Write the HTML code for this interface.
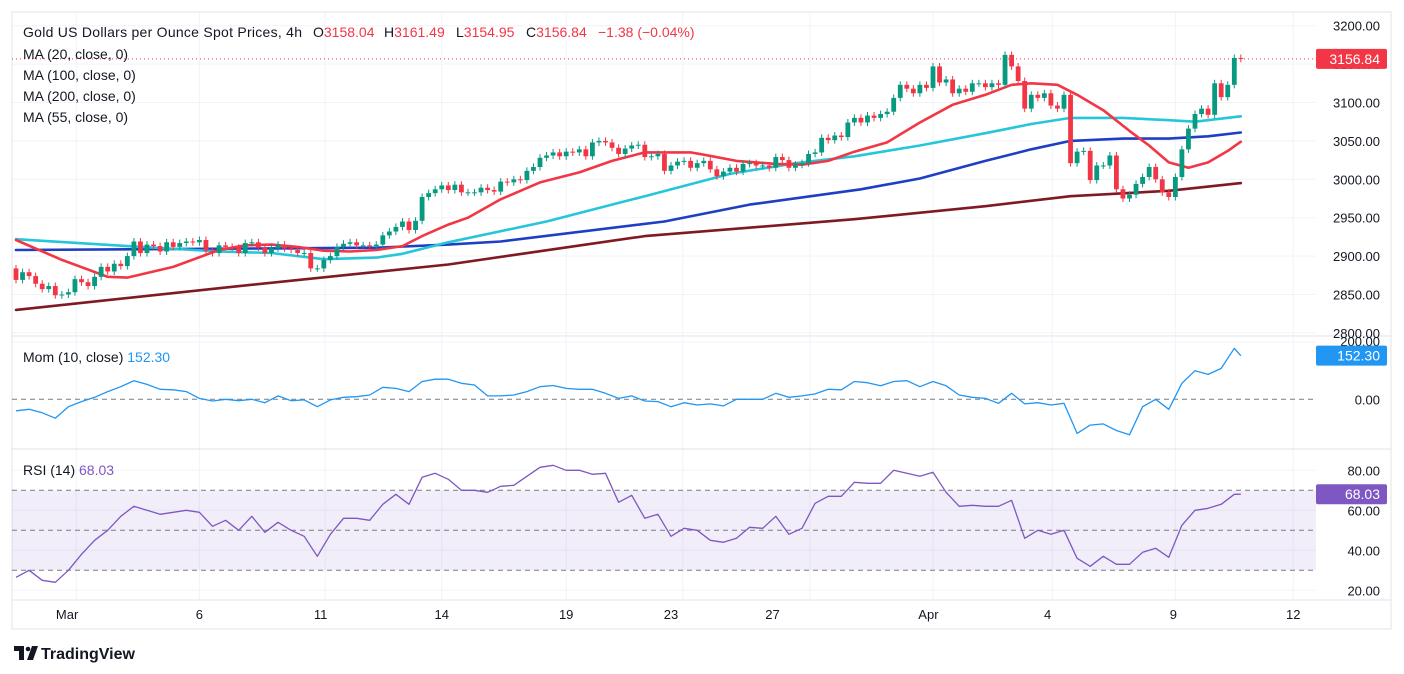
<!DOCTYPE html>
<html><head><meta charset="utf-8"><style>
html,body{margin:0;padding:0;background:#fff;}
svg{display:block;font-family:"Liberation Sans",sans-serif;}
</style></head><body>
<svg id="chart" width="1404" height="674" viewBox="0 0 1404 674" xmlns="http://www.w3.org/2000/svg">
<rect x="0" y="0" width="1404" height="674" fill="#fff"/>
<g id="grid"></g>
<rect x="12" y="12" width="1379" height="617" fill="none" stroke="#e0e3eb" stroke-width="1"/>
<line x1="12" y1="336" x2="1391" y2="336" stroke="#e0e3eb"/>
<line x1="12" y1="449" x2="1391" y2="449" stroke="#e0e3eb"/>
<line x1="12" y1="600" x2="1391" y2="600" stroke="#e0e3eb"/>
<rect x="12" y="490.3" width="1304" height="80" fill="#7e57c2" fill-opacity="0.1"/>
<g id="refs"></g>
<g id="mas"></g>
<g id="candles"></g>
<g id="ind"></g>
<g id="axes" font-size="13" fill="#131722"></g>

<g font-size="14" fill="#131722">
<text x="23" y="37" textLength="279">Gold US Dollars per Ounce Spot Prices, 4h</text>
<text x="313" y="37">O<tspan fill="#f23645">3158.04</tspan></text>
<text x="384" y="37">H<tspan fill="#f23645">3161.49</tspan></text>
<text x="456" y="37">L<tspan fill="#f23645">3154.95</tspan></text>
<text x="526" y="37">C<tspan fill="#f23645">3156.84</tspan></text>
<text x="598" y="37" fill="#f23645">−1.38 (−0.04%)</text>
<text x="23" y="59">MA (20, close, 0)</text>
<text x="23" y="80">MA (100, close, 0)</text>
<text x="23" y="101">MA (200, close, 0)</text>
<text x="23" y="122">MA (55, close, 0)</text>
<text x="23" y="362">Mom (10, close)  <tspan fill="#2196f3">152.30</tspan></text>
<text x="23" y="475">RSI (14)  <tspan fill="#7e57c2">68.03</tspan></text>
</g>

<g>
<path d="M14 646 h10 v14 h-5 v-9 h-5 z M27 660 l5-14 h6 l-5 14 z" fill="#131722"/>
<circle cx="28" cy="649" r="2.3" fill="#131722"/>
<text x="41" y="659" font-size="16" font-weight="bold" fill="#131722">TradingView</text>
</g>
</svg>
<script>
// ---- data ----
const closes = [2869,2879,2874,2864,2857,2861,2849,2850,2853,2870,2866,2861,2873,2886,2880,2890,2887,2900,2919,2904,2915,2913,2906,2918,2912,2917,2919,2918,2921,2907,2904,2914,2912,2911,2904,2917,2918,2911,2904,2910,2915,2910,2908,2904,2904,2884,2884,2895,2900,2912,2916,2918,2914,2914,2913,2915,2927,2932,2938,2945,2934,2946,2977,2982,2987,2992,2986,
2993,2983,2983,2983,2989,2986,2984,2997,2996,3000,2999,3011,3016,3028,3031,3035,3030,3036,3035,3039,3030,3048,3050,3048,3041,3033,3040,3044,3045,3029,3030,3033,3011,3018,3023,3024,3015,3021,3024,3013,3004,3010,3015,3010,3020,3021,3018,3018,3015,3029,3025,3015,3019,3021,3033,3035,3054,3051,3057,3055,3074,3080,
3074,3083,3080,3085,3088,3106,3123,3118,3112,3123,3119,3147,3126,3130,3112,3118,3114,3125,3125,3120,3125,3123,3162,3147,3128,3092,3110,3106,3112,3096,3092,3110,3021,3036,3037,2999,3018,3018,3031,2987,2975,2980,2994,3003,3016,3000,2983,2977,3003,3039,3066,3085,3092,3084,3125,3107,3123,3158,3156.84];
const firstOpen = 2884;
const lastOpen = 3158.04;
const ma20Idx = [1,8,15,18,25,32,36,40,44,48,52,56,60,63,67,70,75,81,87,92,97,104,106,111,117,121,125,129,134,139,144,149,153,156,160,163,167,171,174,177,180,183,186,188];
const ma20Val = [2921,2895,2873,2872,2886,2908,2914,2915,2912,2907,2906,2908,2913,2926,2941,2950,2974,2996,3009,3024,3035,3035,3032,3024,3020,3019,3024,3036,3048,3074,3097,3110,3123,3125,3123,3110,3090,3063,3044,3022,3015,3022,3037,3049];
const ma100Idx = [1,18,32,40,48,56,60,67,82,97,110,120,129,139,149,156,162,170,177,181,188];
const ma100Val = [2922,2913,2906,2904,2896,2898,2903,2918,2945,2978,3007,3021,3030,3044,3060,3072,3080,3080,3077,3075,3082];
const ma200Idx = [1,40,56,67,75,100,113,130,139,149,156,162,170,177,183,188];
const ma200Val = [2908,2910,2911,2915,2919,2945,2967,2987,3001,3024,3039,3050,3053,3053,3056,3061];
const ma55Idx = [1,34,67,97,129,149,162,177,188];
const ma55Val = [2830,2860,2889,2926,2948,2965,2978,2985,2995];
// sampled every 2 candles (0,2,...,186) then last candle 187
const momVals = [-40,-35,-47,-66,-26,-8,7,27,44,65,52,35,33,27,3,-6,0,-5,0,-12,12,-5,-2,-26,-2,7,9,15,42,38,27,62,70,70,56,50,12,12,15,27,44,48,38,35,35,21,3,
12,-6,-8,-26,-12,-20,-16,-23,0,0,0,21,7,12,19,35,33,62,58,47,62,65,44,62,47,15,7,3,-14,21,-16,-12,-20,-14,-119,-90,-86,-109,-124,-26,0,-35,56,100,87,108,178,152.3];
const rsiVals = [26.5,30,25,24,30,38,45,50,57,62,60,58,59,60,59,52,55,50,57,49,54,50,47,37,48,56,56,55,63,68,63,76.5,78.5,75.5,70,70,69,72,72.5,77,81.5,82.5,80,80,78,78.5,64,
67.5,56,58,47,51,50,45,44,46,51.5,51,57,48,51,63.5,67,67,74,73.5,73.5,80,78.5,77,79,69,62,62.5,62,62,65,46,50,48,50,36,32,37,33,33,39,41,36.5,52.5,60,61,63,68,68.03];
const priceTicks = ["3200.00","3150.00","3100.00","3050.00","3000.00","2950.00","2900.00","2850.00","2800.00"];
const priceTickVals = [3200,3150,3100,3050,3000,2950,2900,2850,2800];
const rsiTicks = [80,60,40,20];
const timeLabels = ["Mar","6","11","14","19","23","27","Apr","4","9","12"];
const timeLabelIdx = [7.8,28,46.5,65,84,100,115.5,139.3,157.5,176.7,195];
const gridIdx = [9.2,28,47.2,65,84,101.8,121.2,140,158.2,177,195];

// ---- scales ----
const X = i => 16 + 6.55 * i;
const PY = p => 25.7 + (3200 - p) * 0.768;
const MY = v => 399.3 - v * 0.2865;
const RY = v => 490.3 + (70 - v) * 2;
const NS = "http://www.w3.org/2000/svg";
function mk(tag, attrs, parent) {
  const e = document.createElementNS(NS, tag);
  for (const k in attrs) e.setAttribute(k, attrs[k]);
  parent.appendChild(e);
  return e;
}
const gGrid = document.getElementById('grid');
const gRefs = document.getElementById('refs');
const gMas = document.getElementById('mas');
const gC = document.getElementById('candles');
const gInd = document.getElementById('ind');
const gAx = document.getElementById('axes');

// grid
priceTickVals.forEach(v => {
  const l = mk('line', {x1: 12, x2: 1316, y1: PY(v), y2: PY(v), stroke: '#f0f3fa'}, gGrid);
  
  
});
rsiTicks.forEach(v => {
  const l = mk('line', {x1: 12, x2: 1316, y1: RY(v), y2: RY(v), stroke: '#f0f3fa'}, gGrid);
  
  
});
{
  const l = mk('line', {x1: 12, x2: 1316, y1: MY(200), y2: MY(200), stroke: '#f0f3fa'}, gGrid);
  
  
}
gridIdx.forEach(i => {
  const l = mk('line', {x1: X(i), x2: X(i), y1: 12, y2: 600, stroke: '#f0f3fa'}, gGrid);
  
  
});

// reference lines
[[MY(0), 'mom-zero-line'], [RY(70), 'rsi-70-line'], [RY(50), 'rsi-50-line'], [RY(30), 'rsi-30-line']].forEach(([y, n]) => {
  const l = mk('line', {x1: 12, x2: 1316, y1: y, y2: y, stroke: '#787b86', 'stroke-dasharray': '5,4', 'stroke-width': 1}, gRefs);
  
  
});
{
  const l = mk('line', {x1: 12, x2: 1316, y1: PY(closes[closes.length - 1]), y2: PY(closes[closes.length - 1]), stroke: '#f23645', 'stroke-dasharray': '1,3', 'stroke-width': 1}, gRefs);
  
  
}

// moving averages
function maLine(idx, vals, color, name) {
  const pts = idx.map((i, k) => X(i - 1).toFixed(1) + ',' + PY(vals[k]).toFixed(1)).join(' ');
  const p = mk('polyline', {points: pts, fill: 'none', stroke: color, 'stroke-width': 2.6, 'stroke-linejoin': 'round', 'stroke-linecap': 'round'}, gMas);
  
  
}
maLine(ma55Idx, ma55Val, '#801922', 'ma55-line');
maLine(ma200Idx, ma200Val, '#1e3fc4', 'ma200-line');
maLine(ma100Idx, ma100Val, '#26c6da', 'ma100-line');
maLine(ma20Idx, ma20Val, '#f23645', 'ma20-line');

// candles
closes.forEach((c, i) => {
  const o = i === closes.length - 1 ? lastOpen : (i === 0 ? firstOpen : closes[i - 1]);
  const up = c >= o;
  const col = up ? '#089981' : '#f23645';
  const yT = PY(Math.max(o, c)), yB = PY(Math.min(o, c));
  const x = X(i);
  const w = mk('line', {x1: x, x2: x, y1: yT - 3.5, y2: yB + 3.5, stroke: col, 'stroke-width': 1}, gC);
  
  
  const b = mk('rect', {x: x - 2.4, y: yT, width: 4.8, height: Math.max(1, yB - yT), fill: col}, gC);
  
  
});

// indicators
function sampleIdx(k, n) { return k === n - 1 ? closes.length - 1 : k * 2; }
{
  const pts = momVals.map((v, k) => X(sampleIdx(k, momVals.length)).toFixed(1) + ',' + MY(v).toFixed(1)).join(' ');
  const p = mk('polyline', {points: pts, fill: 'none', stroke: '#2196f3', 'stroke-width': 1.3, 'stroke-linejoin': 'round'}, gInd);
  
  
}
{
  const pts = rsiVals.map((v, k) => X(sampleIdx(k, rsiVals.length)).toFixed(1) + ',' + RY(v).toFixed(1)).join(' ');
  const p = mk('polyline', {points: pts, fill: 'none', stroke: '#7e57c2', 'stroke-width': 1.3, 'stroke-linejoin': 'round'}, gInd);
  
  
}

// axes
priceTicks.forEach((t, k) => {
  const e = mk('text', {x: 1380, y: PY(priceTickVals[k]) + 5, 'text-anchor': 'end'}, gAx);
  e.textContent = t;
  
  
});
{
  const e = mk('text', {x: 1380, y: MY(200) + 4, 'text-anchor': 'end'}, gAx);
  e.textContent = '200.00';
  
  
  const z = mk('text', {x: 1380, y: MY(0) + 5, 'text-anchor': 'end'}, gAx);
  z.textContent = '0.00';
  
  
}
rsiTicks.forEach(v => {
  const e = mk('text', {x: 1380, y: RY(v) + 5, 'text-anchor': 'end'}, gAx);
  e.textContent = v.toFixed(2);
  
  
});
timeLabels.forEach((t, k) => {
  const e = mk('text', {x: X(timeLabelIdx[k]), y: 619, 'text-anchor': 'middle'}, gAx);
  e.textContent = t;
  
  
});
function badge(y, txt, color, name) {
  const r = mk('rect', {x: 1316, y: y - 10, width: 71, height: 20, fill: color, rx: 2}, gAx);
  
  
  const t = mk('text', {x: 1380, y: y + 5, 'text-anchor': 'end', fill: '#fff', 'font-size': 14}, gAx);
  t.textContent = txt;
  
  
}
badge(PY(closes[closes.length - 1]), '3156.84', '#f23645', 'last-price-badge');
badge(MY(momVals[momVals.length - 1]), '152.30', '#2196f3', 'mom-value-badge');
badge(RY(rsiVals[rsiVals.length - 1]), '68.03', '#7e57c2', 'rsi-value-badge');
</script>
</body></html>
